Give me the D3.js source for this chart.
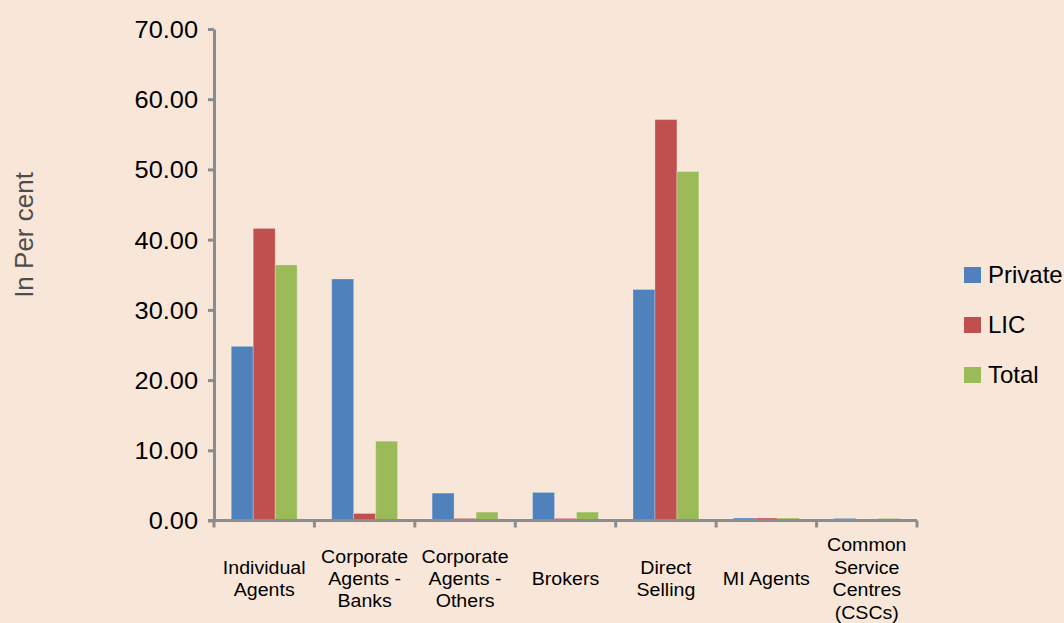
<!DOCTYPE html>
<html>
<head>
<meta charset="utf-8">
<script src="https://cdn.jsdelivr.net/npm/d3@7"></script>
<style>
  html, body { margin: 0; padding: 0; background: #F8E7D9; }
  svg { display: block; }
  text { font-family: "Liberation Sans", Arial, sans-serif; }
</style>
</head>
<body>
<svg id="chart" width="1064" height="623"></svg>
<script>
// Distribution channels, share of new business premium (in per cent)
const categories = [
  "Individual Agents",
  "Corporate Agents - Banks",
  "Corporate Agents - Others",
  "Brokers",
  "Direct Selling",
  "MI Agents",
  "Common Service Centres (CSCs)"
];
// Wrapped lines for the category labels
const categoryLines = [
  ["Individual", "Agents"],
  ["Corporate", "Agents -", "Banks"],
  ["Corporate", "Agents -", "Others"],
  ["Brokers"],
  ["Direct", "Selling"],
  ["MI Agents"],
  ["Common", "Service", "Centres", "(CSCs)"]
];
const seriesNames = ["Private", "LIC", "Total"];
const privateValues = [24.8, 34.4, 3.9, 4.0, 32.9, 0.35, 0.3];
const licValues     = [41.6, 1.0, 0.3, 0.3, 57.1, 0.35, 0.02];
const totalValues   = [36.4, 11.3, 1.2, 1.2, 49.7, 0.35, 0.3];
const yTicks = [0, 10, 20, 30, 40, 50, 60, 70];

const colors = { Private: "#4F81BD", LIC: "#C0504D", Total: "#9BBB59" };
const seriesValues = { Private: privateValues, LIC: licValues, Total: totalValues };

const svg = d3.select("#chart");
const plotLeft = 214, plotRight = 917, plotTop = 29, plotBottom = 520.5;

const x0 = d3.scaleBand().domain(categories).range([plotLeft, plotRight]).padding(0);
const bw = x0.bandwidth();
const x1 = d3.scaleBand().domain(seriesNames).range([bw * 0.172, bw * 0.828]).padding(0);
const y = d3.scaleLinear().domain([0, 70]).range([plotBottom, plotTop]);

const axisColor = "#8C8C8C";

// Bars
const groups = svg.append("g").selectAll("g")
  .data(categories)
  .join("g")
  .attr("transform", d => `translate(${x0(d)},0)`);

groups.selectAll("rect")
  .data((d, i) => seriesNames.map(s => ({ s, v: seriesValues[s][i] })))
  .join("rect")
  .attr("x", d => x1(d.s))
  .attr("width", x1.bandwidth())
  .attr("y", d => y(d.v))
  .attr("height", d => y(0) - y(d.v))
  .attr("fill", d => colors[d.s])
  .attr("stroke", "rgba(255,255,255,0.25)")
  .attr("stroke-width", 1);

// Y axis
const yAxis = svg.append("g")
  .attr("transform", `translate(${plotLeft},0)`)
  .call(d3.axisLeft(y).tickValues(yTicks).tickFormat(d3.format(".2f")).tickSize(6).tickSizeOuter(0));
yAxis.select(".domain").attr("stroke", axisColor).attr("stroke-width", 3);
yAxis.selectAll(".tick line").attr("stroke", axisColor).attr("stroke-width", 3);
yAxis.selectAll(".tick text")
  .attr("x", -16 / 1.08)
  .attr("dy", "0.36em")
  .attr("transform", "scale(1.08,1)")
  .attr("fill", "#000")
  .style("font-size", "23.5px");

// X axis: ticks at category boundaries
const xAxis = svg.append("g")
  .attr("transform", `translate(0,${plotBottom})`);
xAxis.append("line")
  .attr("x1", plotLeft - 6).attr("x2", plotRight)
  .attr("stroke", axisColor).attr("stroke-width", 3);
const boundaries = categories.map(c => x0(c)).concat([plotRight]);
xAxis.selectAll("line.tk")
  .data(boundaries)
  .join("line")
  .attr("class", "tk")
  .attr("x1", d => d).attr("x2", d => d)
  .attr("y1", 0).attr("y2", 7)
  .attr("stroke", axisColor).attr("stroke-width", 3);

// Category labels
const lineH = 22.4;
const labels = svg.append("g").selectAll("text")
  .data(categories)
  .join("text")
  .attr("transform", d => `translate(${x0(d) + bw / 2},0) scale(1.12,1)`)
  .attr("text-anchor", "middle")
  .attr("fill", "#000")
  .style("font-size", "17.5px");
labels.each(function (d, i) {
  const lines = categoryLines[i];
  const first = 585 - (lines.length - 1) * lineH / 2;
  d3.select(this).selectAll("tspan")
    .data(lines)
    .join("tspan")
    .attr("x", 0)
    .attr("y", (l, j) => first + j * lineH)
    .text(l => l);
});

// Y axis title
svg.append("text")
  .attr("transform", "translate(33,235) rotate(-90)")
  .attr("text-anchor", "middle")
  .attr("fill", "#4D4D4D")
  .style("font-size", "26px")
  .text("In Per cent");

// Legend
const legend = svg.append("g").selectAll("g")
  .data(seriesNames)
  .join("g")
  .attr("transform", (d, i) => `translate(964,${267 + i * 50})`);
legend.append("rect")
  .attr("width", 17).attr("height", 16)
  .attr("fill", d => colors[d]);
legend.append("text")
  .attr("x", 24).attr("y", 16)
  .attr("fill", "#000")
  .style("font-size", "24px")
  .text(d => d);
</script>
</body>
</html>
